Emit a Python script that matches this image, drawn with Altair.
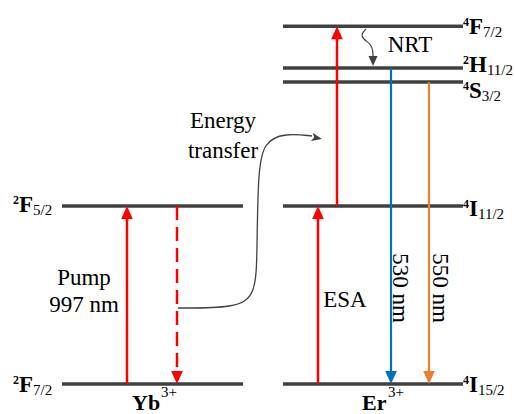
import altair as alt
import pandas as pd

# Energy levels of the Yb3+ / Er3+ pair (10^3 cm^-1)
level_ion = ["Yb", "Yb", "Er", "Er", "Er", "Er", "Er"]
level_energy = [0.0, 10.2, 0.0, 10.2, 17.3, 18.1, 20.5]
level_mult = ["2", "2", "4", "4", "4", "2", "4"]
level_letter = ["F", "F", "I", "I", "S", "H", "F"]
level_j = ["7/2", "5/2", "15/2", "11/2", "3/2", "11/2", "7/2"]

# Transitions: kind, start level energy, end level energy
trans_kind = ["pump", "relax", "esa", "esa", "em530", "em550"]
trans_from = [0.0, 10.2, 0.0, 10.2, 18.1, 17.3]
trans_to = [10.2, 0.0, 10.2, 20.5, 0.0, 0.0]

# Annotation texts
pump_lines = ["Pump", "997 nm"]
esa_text = ["ESA"]
emission_text = ["530 nm", "550 nm"]
nrt_text = ["NRT"]
transfer_lines = ["Energy", "transfer"]
ion_names = ["Yb", "Er"]
ion_charge = ["3+", "3+"]

# ---------------- layout ----------------
W, H = 515, 414
E_MIN, E_MAX = -1.72, 22.0
PX = H / (E_MAX - E_MIN)          # pixels per energy unit
SERIF = "Liberation Serif"
LINE = "#404040"
PALETTE = {"pump": "#ff0000", "relax": "#ff0000", "esa": "#ff0000",
           "em530": "#0070c0", "em550": "#ed7d31"}
WIDTHS = {"pump": 2.5, "relax": 2.5, "esa": 2.5, "em530": 2.2, "em550": 2.2}
COLS = {"Yb": (62, 243), "Er": (283, 463)}
TRANS_X = [127, 177, 318, 337, 391, 429]
HEAD_PX = 13
UP_HEAD = "M0,0L-0.9,2L0.9,2Z"
DOWN_HEAD = "M0,0L-0.9,-2L0.9,-2Z"


def e_of(row):
    """energy value sitting at a given pixel row"""
    return E_MAX - row / PX


xs = alt.Scale(domain=[0, W], nice=False, zero=False)
ys = alt.Scale(domain=[E_MIN, E_MAX], nice=False, zero=False)


def X(f):
    return alt.X(f, type="quantitative", scale=xs, axis=None)


def Y(f):
    return alt.Y(f, type="quantitative", scale=ys, axis=None)


# ---- level lines ----
lv = pd.DataFrame({"ion": level_ion, "E": level_energy, "mult": level_mult,
                   "letter": level_letter, "j": level_j})
lv["x0"] = [COLS[i][0] for i in lv["ion"]]
lv["x1"] = [COLS[i][1] for i in lv["ion"]]

levels = alt.Chart(lv).mark_rule(color=LINE, strokeWidth=3.5).encode(
    x=X("x0"), x2=alt.X2("x1"), y=Y("E"))

# ---- term symbols: superscript multiplicity, bold letter, subscript J ----
MAIN_SIZE, SUP_SIZE, SUB_SIZE = 23, 12, 15
ADV = {"F": 0.611, "I": 0.389, "S": 0.556, "H": 0.778}
NUDGE = [8, 6, 8, 10, 16, 4, 8]      # baseline of the letter below its line (px)
lab = lv.copy()
lab["nudge"] = NUDGE
lab["xsup"] = [13 if i == "Yb" else 463 for i in lab["ion"]]
lab["xmain"] = lab["xsup"] + 6
lab["xj"] = [xm + ADV[l] * MAIN_SIZE for xm, l in zip(lab["xmain"], lab["letter"])]
lab["Em"] = lab["E"] - lab["nudge"] / PX
lab["Es"] = lab["Em"] + 8 / PX
lab["Ej"] = lab["Em"] - 3 / PX

sup = alt.Chart(lab).mark_text(font=SERIF, fontSize=SUP_SIZE, fontWeight="bold",
                               align="left", baseline="alphabetic", color="black").encode(
    x=X("xsup"), y=Y("Es"), text="mult:N")
main = alt.Chart(lab).mark_text(font=SERIF, fontSize=MAIN_SIZE, fontWeight="bold",
                                align="left", baseline="alphabetic", color="black").encode(
    x=X("xmain"), y=Y("Em"), text="letter:N")
sub = alt.Chart(lab).mark_text(font=SERIF, fontSize=SUB_SIZE,
                               align="left", baseline="alphabetic", color="black").encode(
    x=X("xj"), y=Y("Ej"), text="j:N")

# ---- transition arrows ----
tr = pd.DataFrame({"kind": trans_kind, "E0": trans_from, "E1": trans_to})
tr["x"] = TRANS_X
tr["color"] = tr["kind"].map(PALETTE)
tr["sw"] = tr["kind"].map(WIDTHS)
tr["up"] = tr["E1"] > tr["E0"]
tr["Eend"] = [e1 - (HEAD_PX - 2) / PX if u else e1 + (HEAD_PX - 2) / PX
              for e1, u in zip(tr["E1"], tr["up"])]
tr["head"] = [UP_HEAD if u else DOWN_HEAD for u in tr["up"]]

solid = alt.Chart(tr[tr["kind"] != "relax"]).mark_rule().encode(
    x=X("x"), y=Y("E0"), y2=alt.Y2("Eend"),
    color=alt.Color("color:N", scale=None),
    strokeWidth=alt.StrokeWidth("sw:Q", scale=None))
dashed = alt.Chart(tr[tr["kind"] == "relax"]).mark_rule(strokeDash=[14, 7]).encode(
    x=X("x"), y=Y("E0"), y2=alt.Y2("Eend"),
    color=alt.Color("color:N", scale=None),
    strokeWidth=alt.StrokeWidth("sw:Q", scale=None))
heads = alt.Chart(tr).mark_point(filled=True, opacity=1, strokeWidth=0).encode(
    x=X("x"), y=Y("E1"),
    shape=alt.Shape("head:N", scale=None),
    color=alt.Color("color:N", scale=None),
    size=alt.value(HEAD_PX ** 2))

# ---- energy-transfer curve (Yb -> Er) ----
et_x = [178, 235, 256, 257, 258, 263, 285, 312]
et_row = [308, 308, 296, 250, 175, 142, 133, 136]
et = pd.DataFrame({"i": range(len(et_x)), "x": et_x, "E": [e_of(r) for r in et_row]})
et_line = alt.Chart(et).mark_line(interpolate="basis", color=LINE, strokeWidth=1.3).encode(
    x=X("x"), y=Y("E"), order=alt.Order("i:Q"))
et_head = alt.Chart(pd.DataFrame({"x": [322], "E": [e_of(139)]})).mark_point(
    filled=True, opacity=1, strokeWidth=0, color=LINE, angle=12,
    shape="M0,0L-2,-0.8L-1.5,0L-2,0.8Z", size=110).encode(x=X("x"), y=Y("E"))

# ---- non-radiative relaxation squiggle ----
nr_x = [366, 361, 363, 371, 373, 373]
nr_row = [29, 34, 39, 44, 51, 58]
nr = pd.DataFrame({"i": range(len(nr_x)), "x": nr_x, "E": [e_of(r) for r in nr_row]})
nr_line = alt.Chart(nr).mark_line(interpolate="basis", color=LINE, strokeWidth=1.2).encode(
    x=X("x"), y=Y("E"), order=alt.Order("i:Q"))
nr_head = alt.Chart(pd.DataFrame({"x": [373], "E": [e_of(66)]})).mark_point(
    filled=True, opacity=1, strokeWidth=0, color=LINE,
    shape="M0,0L-0.9,-2L0.9,-2Z", size=100).encode(x=X("x"), y=Y("E"))

# ---- annotation text ----
ann = pd.DataFrame({
    "text": pump_lines + esa_text + nrt_text + transfer_lines,
    "x": [84, 84, 345, 410, 223, 223],
    "E": [e_of(r) for r in [285, 312, 307, 52, 128, 158]],
})
ann_text = alt.Chart(ann).mark_text(font=SERIF, fontSize=23, align="center",
                                    baseline="alphabetic", color="black").encode(
    x=X("x"), y=Y("E"), text="text:N")

em = pd.DataFrame({"text": emission_text, "x": [400, 440], "E": [e_of(288)] * 2})
em_text = alt.Chart(em).mark_text(font=SERIF, fontSize=23, align="center",
                                  baseline="middle", angle=90, color="black").encode(
    x=X("x"), y=Y("E"), text="text:N")

# ---- ion names ----
ions = pd.DataFrame({"name": ion_names, "charge": ion_charge,
                     "xn": [132, 362], "xc": [161, 388]})
ions["En"] = e_of(410)
ions["Ec"] = e_of(397)
ion_name = alt.Chart(ions).mark_text(font=SERIF, fontSize=22, fontWeight="bold",
                                     align="left", baseline="alphabetic", color="black").encode(
    x=X("xn"), y=Y("En"), text="name:N")
ion_chg = alt.Chart(ions).mark_text(font=SERIF, fontSize=15, align="left",
                                    baseline="alphabetic", color="black").encode(
    x=X("xc"), y=Y("Ec"), text="charge:N")

chart = alt.layer(
    levels, dashed, solid, heads, et_line, et_head, nr_line, nr_head,
    sup, main, sub, ann_text, em_text, ion_name, ion_chg,
).properties(
    width=W, height=H, padding=0, background="white",
    autosize=alt.AutoSizeParams(type="none"),
).configure_view(stroke=None)

chart.save("out.html", embed_options={"renderer": "svg", "actions": False})
